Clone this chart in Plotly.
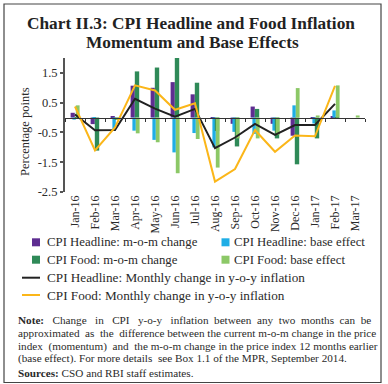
import plotly.graph_objects as go

months = ["Jan-16", "Feb-16", "Mar-16", "Apr-16", "May-16", "Jun-16", "Jul-16", "Aug-16",
          "Sep-16", "Oct-16", "Nov-16", "Dec-16", "Jan-17", "Feb-17", "Mar-17"]

headline_mom = [0.16, -0.22, 0.02, 1.07, 1.00, 1.19, 0.78, -0.03, -0.21, 0.37, -0.21, -0.61, -0.05, 0.05, None]
headline_base = [-0.07, -0.05, -0.44, -0.44, -0.75, -1.17, -0.52, -1.00, -0.48, -0.55, -0.44, 0.41, -0.20, 0.24, None]
food_mom = [-0.03, -1.11, -0.08, 1.55, 1.68, 2.13, 1.17, -0.45, -0.97, 0.29, -0.70, -1.57, -0.70, -0.02, None]
food_base = [0.41, 0.00, -0.08, -0.53, -0.83, -1.87, -0.72, -1.68, -0.70, -0.70, -0.58, 0.99, 0.07, 1.08, 0.07]
headline_yoy_change = [0.10, -0.43, -0.42, 0.63, 0.30, 0.03, 0.29, -1.03, -0.67, -0.21, -0.58, -0.25, -0.25, 0.46, None]
food_yoy_change = [0.37, -1.10, -0.33, 1.08, 0.91, 0.26, 0.48, -2.15, -1.73, -0.42, -1.15, -0.60, -0.63, 1.06, None]

y_ticks = [-2.5, -1.5, -0.5, 0.5, 1.5]
y_range = [-2.5, 2.0]

C_PURPLE = "#5E2D91"
C_BLUE = "#1FAEE6"
C_DGREEN = "#2F8A58"
C_LGREEN = "#8CC867"
C_BLACK = "#222222"
C_ORANGE = "#FBB619"

SERIF = "Liberation Serif"
TXT = "#2a2a2a"
NB = "\u00a0"

fig = go.Figure()

bar_specs = [
    ("CPI Headline: m-o-m change", headline_mom, C_PURPLE, -0.22, 0.21),
    ("CPI Headline: base effect", headline_base, C_BLUE, -0.13, 0.17),
    ("CPI Food: m-o-m change", food_mom, C_DGREEN, -0.01, 0.22),
    ("CPI Food: base effect", food_base, C_LGREEN, 0.04, 0.19),
]
for name, vals, col, off, w in bar_specs:
    fig.add_trace(go.Bar(x=months, y=vals, name=name, marker=dict(color=col, line=dict(width=0)),
                         offset=off, width=w, showlegend=False))

fig.add_trace(go.Scatter(x=months, y=headline_yoy_change, mode="lines", name="CPI Headline: Monthly change in y-o-y inflation",
                         line=dict(color=C_BLACK, width=2), showlegend=False))
fig.add_trace(go.Scatter(x=months, y=food_yoy_change, mode="lines", name="CPI Food: Monthly change in y-o-y inflation",
                         line=dict(color=C_ORANGE, width=2), showlegend=False))
# helper trace so the zero-line axis (x2) carries the categories
fig.add_trace(go.Scatter(x=months, y=[None] * len(months), xaxis="x2", mode="lines",
                         showlegend=False, hoverinfo="skip"))

L, R, T, B = 65, 23, 58, 192
W, H = 388, 384
PW, PH = W - L - R, H - T - B


def px(xp):
    return (xp - L) / PW


def py(yp):
    return (H - B - yp) / PH


fig.update_layout(
    width=W, height=H,
    margin=dict(l=L, r=R, t=T, b=B),
    paper_bgcolor="white", plot_bgcolor="white",
    barmode="overlay",
    showlegend=False,
    font=dict(family=SERIF, color=TXT, size=11),
    xaxis=dict(type="category", categoryarray=months, range=[-0.5, len(months) - 0.5],
               showline=False, ticks="", showgrid=False, zeroline=False,
               tickangle=-90, tickfont=dict(family=SERIF, size=12, color=TXT)),
    xaxis2=dict(type="category", categoryarray=months, range=[-0.5, len(months) - 0.5],
                overlaying="x", anchor="free", position=(0 - y_range[0]) / (y_range[1] - y_range[0]),
                showline=True, linecolor="#333333", linewidth=1.3,
                ticks="outside", tickson="boundaries", ticklen=3, tickcolor="#333333", tickwidth=1,
                showticklabels=False, showgrid=False, zeroline=False),
    yaxis=dict(range=y_range, tickvals=y_ticks, ticktext=[f"{v:.1f}" for v in y_ticks],
               showline=True, linecolor="#555555", linewidth=2,
               ticks="outside", ticklen=3, tickcolor="#555555", tickwidth=1.5,
               showgrid=False, zeroline=False,
               tickfont=dict(family=SERIF, size=12.5, color=TXT)),
)

ann = []
# title
ann.append(dict(text="<b>Chart II.3: CPI Headline and Food Inflation</b>", x=px(191), y=py(23),
                xref="paper", yref="paper", showarrow=False, xanchor="center", yanchor="middle",
                font=dict(family=SERIF, size=17.3, color="#222")))
ann.append(dict(text="<b>Momentum and Base Effects</b>", x=px(192), y=py(42),
                xref="paper", yref="paper", showarrow=False, xanchor="center", yanchor="middle",
                font=dict(family=SERIF, size=17.3, color="#222")))
# y title
ann.append(dict(text="Percentage points", x=px(25), y=py(132), xref="paper", yref="paper",
                showarrow=False, textangle=-90, xanchor="center", yanchor="middle",
                font=dict(family=SERIF, size=12.5, color=TXT)))

shapes = []
# legend
leg_boxes = [
    (bar_specs[0][0], C_PURPLE, 32, 45, 242.3),
    (bar_specs[1][0], C_BLUE, 221.5, 232, 242.3),
    (bar_specs[2][0], C_DGREEN, 32, 45, 259.7),
    (bar_specs[3][0], C_LGREEN, 221.5, 232, 259.7),
]
for name, col, bx, tx, yy in leg_boxes:
    shapes.append(dict(type="rect", xref="paper", yref="paper", x0=px(bx), x1=px(bx + 8),
                       y0=py(yy + 4), y1=py(yy - 4), fillcolor=col, line=dict(width=0)))
    ann.append(dict(text=name, x=px(tx), y=py(yy), xref="paper", yref="paper", showarrow=False,
                    xanchor="left", yanchor="middle", font=dict(family=SERIF, size=12.8, color=TXT)))
leg_lines = [
    ("CPI Headline: Monthly change in y-o-y inflation", C_BLACK, 277.7),
    ("CPI Food: Monthly change in y-o-y inflation", C_ORANGE, 295.0),
]
for name, col, yy in leg_lines:
    shapes.append(dict(type="line", xref="paper", yref="paper", x0=px(22), x1=px(40),
                       y0=py(yy), y1=py(yy), line=dict(color=col, width=2)))
    ann.append(dict(text=name, x=px(45), y=py(yy), xref="paper", yref="paper", showarrow=False,
                    xanchor="left", yanchor="middle", font=dict(family=SERIF, size=13.2, color=TXT)))


def spread(words, extra):
    # join words, distributing `extra` additional spaces over the gaps (text justification)
    gaps = len(words) - 1
    out = words[0]
    for i, wd in enumerate(words[1:]):
        n = extra // gaps + (1 if i < extra % gaps else 0)
        out += " " + NB * n + wd
    return out


note_lines = [
    spread("<b>Note:</b> Change in CPI y-o-y inflation between any two months can be".split(" "), 16),
    spread("approximated as the difference between the current m-o-m change in the price".split(" "), 3),
    spread("index (momentum) and the m-o-m change in the price index 12 months earlier".split(" "), 3),
    "(base effect). For more details" + NB + " see Box 1.1 of the MPR, September 2014.",
    "<b>Sources:</b> CSO and RBI staff estimates.",
]
note_y = [320, 333, 346.2, 358.8, 372.7]
for t, yy in zip(note_lines, note_y):
    ann.append(dict(text=t, x=px(16), y=py(yy), xref="paper", yref="paper", showarrow=False,
                    xanchor="left", yanchor="middle", font=dict(family=SERIF, size=11.2, color=TXT)))

# frame
shapes.append(dict(type="rect", xref="paper", yref="paper", x0=px(4), x1=px(381), y0=py(382.5), y1=py(4),
                   line=dict(color="#444444", width=1.2), fillcolor="rgba(0,0,0,0)", layer="below"))

fig.update_layout(annotations=ann, shapes=shapes)
fig.write_html("out.html", config={"displayModeBar": False},
               post_script="document.body.style.margin='0';document.body.style.overflow='hidden';")
